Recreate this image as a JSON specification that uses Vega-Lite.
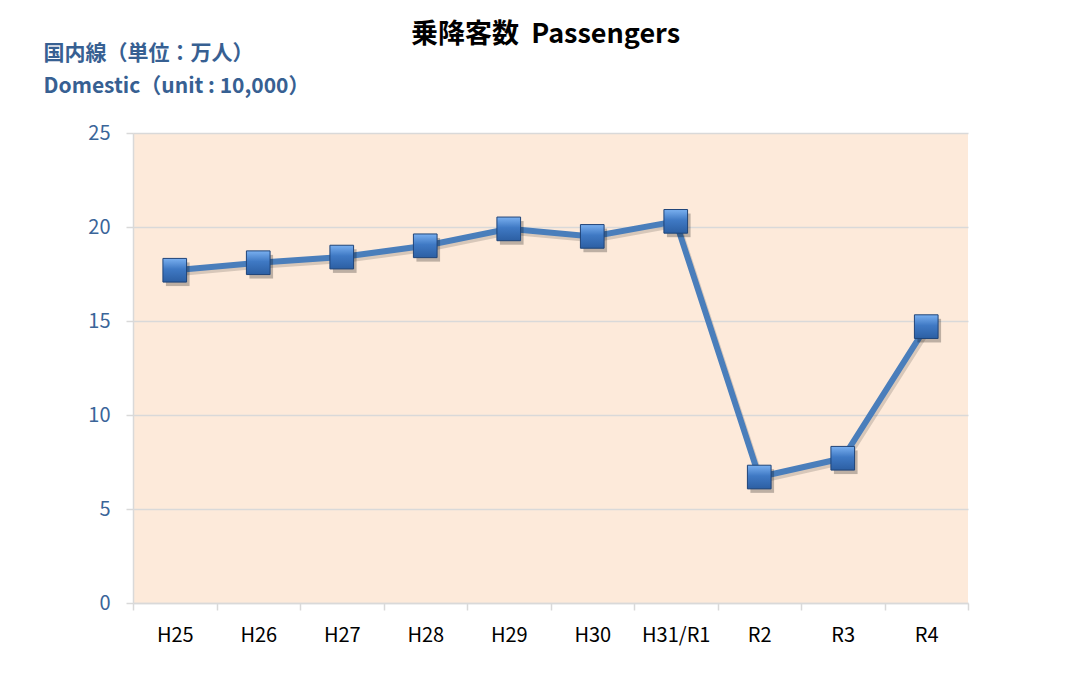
{
  "$schema": "https://vega.github.io/schema/vega-lite/v6.json",
  "autosize": "none",
  "width": 835,
  "height": 470,
  "padding": {"left": 133, "top": 133, "right": 97, "bottom": 89},
  "background": "white",
  "config": {
    "font": "Noto Sans CJK JP",
    "view": {"fill": "#FDEADA", "stroke": null}
  },
  "title": {
    "text": "乗降客数\u00a0\u00a0Passengers",
    "fontSize": 27,
    "fontWeight": "bold",
    "color": "#000000",
    "font": "Noto Sans CJK JP",
    "anchor": "middle",
    "offset": -7,
    "dx": -5
  },
  "data": {
    "values": [
      {"year": "H25", "passengers": 17.7},
      {"year": "H26", "passengers": 18.1},
      {"year": "H27", "passengers": 18.4},
      {"year": "H28", "passengers": 19.0},
      {"year": "H29", "passengers": 19.9},
      {"year": "H30", "passengers": 19.5},
      {"year": "H31/R1", "passengers": 20.3},
      {"year": "R2", "passengers": 6.7},
      {"year": "R3", "passengers": 7.7},
      {"year": "R4", "passengers": 14.7}
    ]
  },
  "encoding": {
    "x": {
      "field": "year",
      "type": "nominal",
      "sort": null,
      "bandPosition": 0.5,
      "scale": {"type": "band", "paddingInner": 0, "paddingOuter": 0},
      "axis": {
        "title": null,
        "labelAngle": 0,
        "tickBand": "extent",
        "labelFontSize": 20,
        "labelColor": "#000000",
        "labelPadding": 15,
        "tickSize": 7,
        "tickColor": "#D9D9D9",
        "domainColor": "#D9D9D9",
        "domainWidth": 1.5,
        "tickWidth": 1.5,
        "grid": false
      }
    },
    "y": {
      "field": "passengers",
      "type": "quantitative",
      "scale": {"domain": [0, 25]},
      "axis": {
        "values": [0, 5, 10, 15, 20, 25],
        "title": ["国内線（単位：万人）", "Domestic（unit : 10,000）"],
        "titleAngle": 0,
        "titleAlign": "left",
        "titleBaseline": "top",
        "titleX": -90,
        "titleY": -91,
        "titleFontSize": 21,
        "titleFontWeight": "bold",
        "titleColor": "#376092",
        "titleLineHeight": 33,
        "labelFontSize": 20,
        "labelColor": "#3A6599",
        "labelPadding": 16,
        "tickSize": 7,
        "tickColor": "#D9D9D9",
        "domainColor": "#D9D9D9",
        "domainWidth": 1.5,
        "tickWidth": 1.5,
        "gridColor": "#D9D9D9",
        "gridWidth": 1.5
      }
    }
  },
  "layer": [
    {
      "mark": {"type": "line", "color": "#000000", "opacity": 0.15, "strokeWidth": 6, "xOffset": 2, "yOffset": 3}
    },
    {
      "mark": {"type": "line", "color": "#4A7EBB", "strokeWidth": 6}
    },
    {
      "mark": {"type": "point", "shape": "square", "size": 560, "filled": true, "fill": "#000000", "opacity": 0.25, "xOffset": 3, "yOffset": 4}
    },
    {
      "mark": {
        "type": "point",
        "shape": "square",
        "size": 560,
        "filled": true,
        "opacity": 1,
        "fill": {
          "gradient": "linear",
          "x1": 0, "y1": 0, "x2": 0, "y2": 1,
          "stops": [
            {"offset": 0, "color": "#7AB0F0"},
            {"offset": 0.45, "color": "#3F79C4"},
            {"offset": 1, "color": "#2C5FA3"}
          ]
        },
        "stroke": "#1F4478",
        "strokeWidth": 1
      }
    }
  ]
}
